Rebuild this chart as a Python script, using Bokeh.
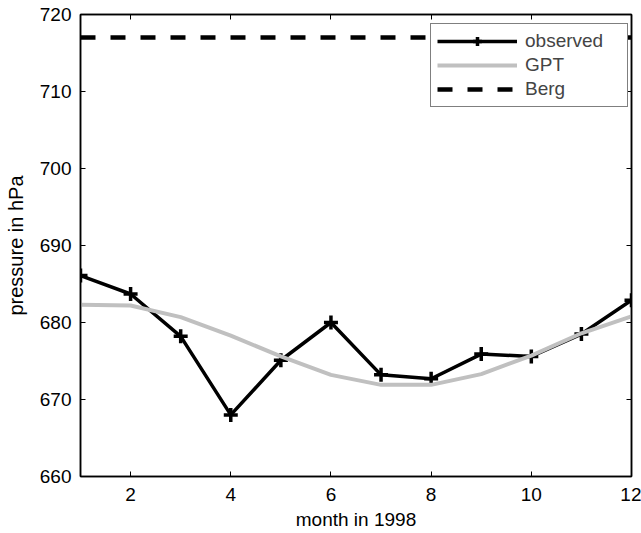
from bokeh.plotting import figure
from bokeh.models import LinearAxis, FixedTicker, Range1d, Legend, LegendItem
from bokeh.embed import file_html
from bokeh.resources import INLINE

months = [1, 2, 3, 4, 5, 6, 7, 8, 9, 10, 11, 12]
observed = [686.1, 683.7, 678.2, 668.0, 675.1, 680.0, 673.2, 672.7, 675.9, 675.6, 678.5, 682.9]
gpt = [682.3, 682.2, 680.7, 678.3, 675.6, 673.2, 671.9, 671.9, 673.3, 675.7, 678.6, 680.8]
berg = [717.0] * 12
x_ticks = [2, 4, 6, 8, 10, 12]
y_ticks = [660, 670, 680, 690, 700, 710, 720]

FONT = "Liberation Sans"
FS = "19px"

p = figure(width=641, height=533, output_backend="svg", toolbar_location=None,
           x_range=Range1d(1, 12), y_range=Range1d(660, 720),
           min_border_left=80, min_border_right=10, min_border_top=14, min_border_bottom=57)
p.xgrid.visible = False
p.ygrid.visible = False
p.outline_line_color = "black"
p.outline_line_width = 1.5
p.background_fill_color = "white"
p.border_fill_color = "white"

def style_axis(ax):
    ax.axis_line_color = "black"
    ax.axis_line_width = 1.5
    ax.major_tick_in = 5
    ax.major_tick_out = 0
    ax.minor_tick_in = 0
    ax.minor_tick_out = 0
    ax.major_tick_line_color = "black"
    ax.major_tick_line_width = 1
    ax.major_label_text_font = FONT
    ax.major_label_text_font_size = FS
    ax.major_label_text_color = "black"
    ax.axis_label_text_font = FONT
    ax.axis_label_text_font_size = FS
    ax.axis_label_text_font_style = "normal"
    ax.axis_label_text_color = "black"

p.xaxis.ticker = FixedTicker(ticks=x_ticks)
p.yaxis.ticker = FixedTicker(ticks=y_ticks)
p.xaxis.axis_label = "month in 1998"
p.yaxis.axis_label = "pressure in hPa"
style_axis(p.xaxis[0])
style_axis(p.yaxis[0])
p.yaxis.axis_label_text_font_size = "20px"
p.xaxis.major_label_standoff = 11
p.yaxis.major_label_standoff = 9
p.xaxis.axis_label_standoff = 5
p.xaxis.axis_label_text_line_height = 0.8
p.xaxis.major_label_text_line_height = 0.8
p.yaxis.axis_label_standoff = 10

top = LinearAxis(ticker=FixedTicker(ticks=x_ticks),
                 major_label_overrides={t: "" for t in x_ticks})
style_axis(top)
top.major_label_standoff = 0
right = LinearAxis(ticker=FixedTicker(ticks=y_ticks),
                   major_label_overrides={t: "" for t in y_ticks})
style_axis(right)
right.major_label_standoff = 0
p.add_layout(top, "above")
p.add_layout(right, "right")

r_obs = p.line(months, observed, line_color="black", line_width=3.5)
r_obs_m = p.scatter(months, observed, marker="cross", size=14, line_color="black",
                    line_width=3.5)
r_gpt = p.line(months, gpt, line_color="#c0c0c0", line_width=4)
r_berg = p.line(months, berg, line_color="black", line_width=4.5, line_dash="15 15")

legend = Legend(items=[
    LegendItem(label="observed", renderers=[r_obs, r_obs_m]),
    LegendItem(label="GPT", renderers=[r_gpt]),
    LegendItem(label="Berg", renderers=[r_berg]),
], location=(350, 369))
legend.label_text_font = FONT
legend.label_text_font_size = FS
legend.border_line_color = "black"
legend.border_line_width = 1.5
legend.margin = 0
legend.padding = 6
legend.spacing = 2
legend.glyph_width = 80
legend.glyph_height = 22
legend.label_height = 22
legend.label_width = 96
legend.label_standoff = 8
legend.background_fill_alpha = 1
p.add_layout(legend)

open("out.html", "w").write(file_html(p, INLINE))
